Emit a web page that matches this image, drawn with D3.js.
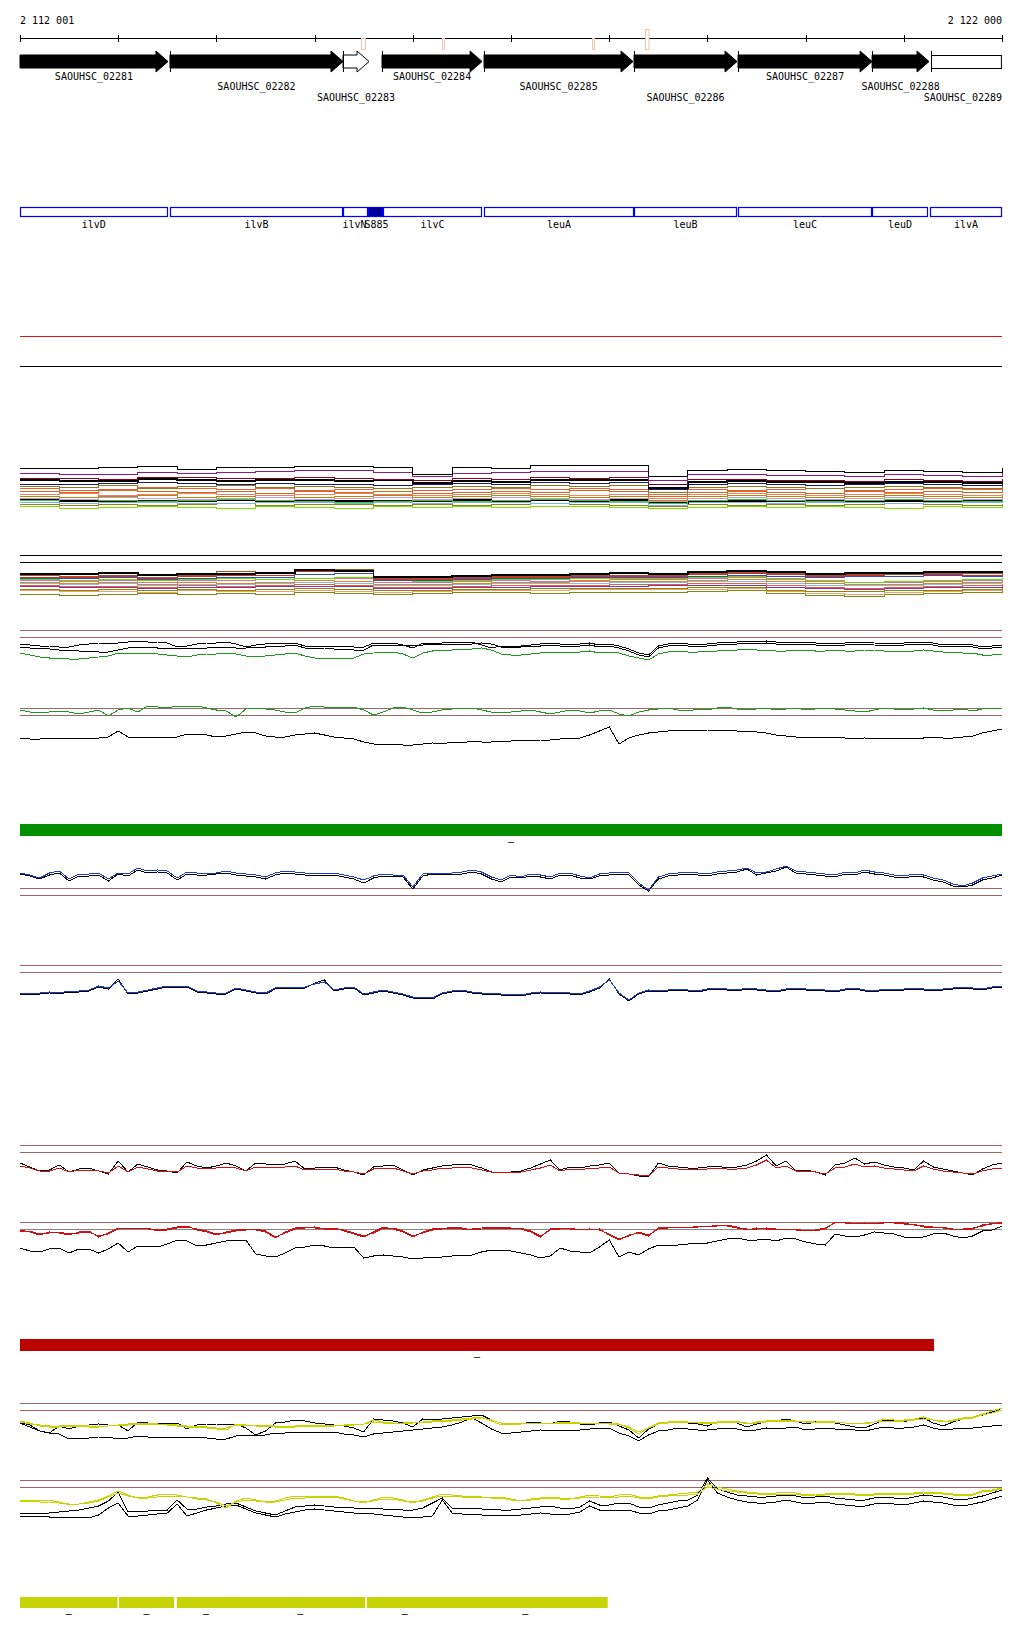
<!DOCTYPE html>
<html><head><meta charset="utf-8">
<script src="https://cdn.jsdelivr.net/npm/d3@7"></script>
<style>
body{margin:0;background:#fff}
svg{display:block}
text{font-family:"DejaVu Sans Mono",monospace;font-size:10px;fill:#000}
</style>
</head><body><svg id="c" width="1024" height="1640"></svg>
<script>
// ---------- data ----------
const START = 2112001, END = 2122000;
const axisTicks = [2112001,2113000,2114000,2115000,2116000,2117000,2118000,2119000,2120000,2121000,2122000];
const axisLabels = ["2 112 001","2 122 000"];

const geneNames = ["SAOUHSC_02281","SAOUHSC_02282","SAOUHSC_02283","SAOUHSC_02284","SAOUHSC_02285","SAOUHSC_02286","SAOUHSC_02287","SAOUHSC_02288","SAOUHSC_02289"];
const geneStarts = [2112001,2113528,2115290,2115687,2116726,2118253,2119312,2120677,2121278];
const geneEnds   = [2113508,2115290,2115555,2116706,2118243,2119302,2120677,2121257,2122000];
const geneKinds  = ["cds","cds","pseudo","cds","cds","cds","cds","cds","partial"];

const markerPos = [2115470,2116300,2117823,2118360];
const markerLen = [40,20,20,35];
const markerTop = [38,38,38,29];

const featNames  = ["ilvD","ilvB","ilvN","S885","ilvC","leuA","leuB","leuC","leuD","ilvA"];
const featStarts = [2112001,2113528,2115290,2115545,2115697,2116726,2118253,2119312,2120677,2121267];
const featEnds   = [2113503,2115290,2115545,2115697,2116706,2118253,2119302,2120677,2121247,2122000];
const featKinds  = ["gene","gene","gene","srna","gene","gene","gene","gene","gene","gene"];

// sampling positions: 100 bp (fine) and 400 bp (coarse)
const posFine = d3.range(101).map(i => START + i*100);
const posCoarse = d3.range(26).map(i => START + i*400);

// Track A (multi-series, coarse)
const A1 = [44,44,45,46,43,45,45,46,46,45,38,45,44,47,47,47,36,42,43,42,41,40,42,41,40,44];
const A2 = [39,38,38,40,39,40,41,42,42,40,36,39,40,41,41,41,32,38,38,37,37,36,38,37,36,39];
const A3 = [34,34,33,35,35,34,34,35,34,33,32,34,33,35,34,35,28,33,33,32,32,31,33,32,31,33];
const A4 = [32,31,31,33,32,31,32,32,31,32,29,31,30,32,32,32,24,30,31,30,30,29,30,30,29,31];
const A5 = [28,28,29,30,29,28,29,28,28,27,28,29,28,30,29,30,23,28,29,28,27,28,29,28,27,29];
const A6 = [26,25,27,24,26,27,25,26,25,24,25,26,25,27,26,27,20,25,26,25,24,25,26,25,24,26];
const A7 = [24,22,23,25,24,23,24,22,23,24,22,23,24,23,24,23,18,23,22,23,24,22,23,24,23,24];
const A8 = [21,20,22,21,20,21,19,21,20,21,19,20,21,20,22,21,16,20,21,20,19,21,20,21,20,22];
const A9 = [18,19,17,18,19,18,17,18,19,18,17,18,19,18,17,18,14,18,19,18,17,18,19,18,17,18];
const A10 = [16,15,16,17,15,16,17,15,16,17,15,16,17,16,15,16,12,16,17,16,15,16,17,16,15,17];
const A11 = [14,13,15,14,13,14,15,13,14,15,13,14,15,14,13,14,11,14,15,14,13,14,15,14,13,15];
const A12 = [12,13,12,11,12,13,12,11,10,11,12,11,12,13,12,11,9,12,13,12,11,12,13,12,11,13];
const A13 = [12,11,11,11,11,12,11,11,11,11,11,12,11,12,11,12,9,11,11,11,11,11,11,11,11,12];
const A14 = [10,9,10,10,9,9,10,10,9,10,9,10,10,9,10,10,7,10,10,9,10,10,9,10,10,9];
const A15 = [8,7,8,7,8,9,7,8,8,7,8,7,8,9,8,7,6,8,7,8,7,8,9,8,7,8];
const A16 = [6,4,5,6,5,4,6,5,4,6,5,6,5,6,6,5,4,5,6,5,6,5,4,6,5,6];

// Track B (multi-series, coarse)
const B1 = [24,24,25,23,24,24,25,28,27,21,21,22,23,23,24,25,24,26,27,26,24,25,25,26,26,27];
const B2 = [23,22,23,21,23,27,26,29,29,20,20,21,22,22,23,23,23,25,26,25,23,24,24,25,25,26];
const B3 = [21,21,22,20,22,23,23,27,28,19,19,20,21,21,22,22,22,24,25,24,22,23,24,24,23,25];
const B4 = [20,20,21,19,20,21,21,24,25,18,18,19,20,20,21,21,21,22,23,22,21,22,22,23,22,23];
const B5 = [19,18,19,18,19,20,19,20,21,18,17,18,19,19,20,20,20,21,22,20,18,16,17,18,19,20];
const B6 = [18,17,18,16,18,18,19,20,20,16,16,17,18,17,18,19,19,20,21,19,17,16,16,17,18,19];
const B7 = [16,15,16,14,16,15,16,18,17,14,14,15,16,16,17,17,17,18,19,17,15,14,14,15,16,17];
const B8 = [15,14,15,13,14,14,15,16,15,13,13,14,15,15,15,16,16,17,17,15,13,13,13,14,15,15];
const B9 = [13,12,12,11,13,12,13,14,13,11,11,12,13,13,13,14,14,15,15,13,11,10,11,12,13,14];
const B10 = [12,11,11,10,11,11,12,12,12,10,10,11,11,12,12,12,13,13,13,11,10,9,10,11,11,12];
const B11 = [9,8,9,8,9,8,9,10,9,8,8,9,9,10,10,10,10,11,11,8,7,7,8,8,9,10];
const B12 = [8,7,7,6,8,7,7,8,7,6,7,8,8,8,9,9,9,9,10,7,5,4,6,7,8,9];
const B13 = [4,3,4,5,4,5,4,6,5,4,5,6,6,5,6,6,6,7,8,5,3,2,4,5,6,7];

// Track C
const C_black1 = [18,17,16,16,15,15,17,18,19,19,19,20,21,20,20,19,15,16,18,19,19,20,18,15,17,18,19,19,19,16,15,16,16,16,15,15,19,19,19,17,14,19,19,19,20,20,20,17,14,16,15,
16,17,18,19,18,17,18,19,17,18,16,13,9,7,16,18,19,18,17,18,19,20,20,21,20,21,20,19,20,20,19,18,19,19,20,20,19,18,19,19,20,20,19,17,18,18,17,15,16,17];
const C_black2 = [15,14,14,13,12,12,11,11,10,10,12,14,15,15,14,14,14,14,14,14,15,15,14,14,15,15,16,16,17,14,14,14,13,13,12,12,17,17,17,17,17,17,18,18,18,18,18,19,18,15,15,
15,16,16,17,16,15,16,17,15,16,14,11,7,5,14,16,17,16,15,16,17,18,18,19,18,19,18,17,18,18,17,16,17,17,18,18,17,16,17,17,18,18,17,15,16,16,15,13,14,15];
const C_green = [9,7,5,4,4,3,3,4,5,6,9,9,9,9,8,7,6,5,7,8,8,9,8,6,5,6,7,8,9,6,4,4,4,4,4,8,9,10,10,8,4,9,11,12,12,13,13,14,12,8,7,
7,8,9,10,10,9,10,11,9,10,9,6,4,2,8,10,11,10,10,11,11,12,12,13,12,12,11,11,12,12,11,11,12,11,11,12,12,11,10,11,11,12,11,10,10,9,9,7,7,8];
// Track D
const D_green = [40,38,37,38,39,38,36,38,40,34,40,42,38,44,43,42,44,44,44,42,40,39,33,41,42,41,40,38,37,42,44,43,43,43,43,40,35,38,42,43,40,37,38,40,41,42,42,40,38,37,38,
39,40,38,36,38,40,39,37,39,40,36,34,38,40,41,42,40,39,41,40,42,43,41,40,41,42,40,41,42,40,41,42,41,40,39,38,40,42,41,40,41,42,40,39,40,41,39,41,42,41];
const D_black = [12,11,11,12,12,12,11,12,12,13,19,13,13,13,13,13,13,16,16,15,13,14,16,18,17,14,13,13,15,16,17,15,13,12,11,8,6,5,6,5,5,6,7,6,8,7,9,8,8,9,9,
10,9,10,10,11,12,12,15,19,23,6,12,15,17,18,19,20,19,20,20,19,20,19,19,18,17,15,14,13,13,13,12,13,12,11,12,11,12,12,11,12,12,13,12,12,13,14,17,19,21];
// Track E
const E_blue = [22,20,17,22,24,16,21,21,22,16,22,21,27,24,25,24,17,23,22,22,22,24,22,21,20,18,22,24,23,22,21,22,22,20,18,15,19,21,20,20,8,21,22,22,22,23,25,23,18,15,20,
18,21,20,18,22,22,19,17,21,22,23,22,12,5,18,21,22,23,22,21,23,24,25,27,22,23,26,29,24,23,22,21,20,23,22,25,23,22,20,19,21,20,17,15,11,9,12,17,19,21];
const E_black = [21,19,16,20,22,14,19,19,20,14,21,19,25,22,23,22,15,21,20,20,21,22,20,19,18,16,20,22,21,20,19,20,20,18,16,12,17,19,19,18,6,19,21,20,21,21,23,21,16,13,18,
17,19,18,16,20,20,17,16,19,20,21,20,10,4,16,19,20,21,20,19,21,22,23,26,20,22,24,28,22,21,20,19,18,21,20,23,21,20,18,17,19,18,15,13,9,8,10,15,17,20];
// Track F
const F_blue = [11,12,12,13,12,14,14,15,19,17,24,12,13,15,17,19,19,19,14,13,12,12,17,15,13,12,17,18,18,18,21,23,15,17,18,11,13,15,13,11,8,8,7,12,14,15,13,12,12,11,11,
10,12,13,12,13,12,11,14,18,25,12,5,12,15,14,15,16,15,14,16,17,16,15,17,16,15,14,16,17,16,16,15,14,16,17,15,14,16,15,16,17,16,15,16,17,18,17,16,18,19];
const F_black = [10,11,11,12,11,13,13,14,18,16,26,11,12,14,16,18,18,18,13,12,11,11,16,14,12,11,16,17,17,17,22,25,14,16,17,10,12,14,12,10,7,7,6,11,13,14,12,11,11,10,10,
9,11,12,11,12,11,10,13,17,26,11,4,11,14,13,14,15,14,13,15,16,15,14,16,15,14,13,15,16,15,15,14,13,15,16,14,13,15,14,15,16,15,14,15,16,17,16,15,17,18];
// Track G
const G_black = [22,18,14,15,20,13,16,17,14,11,24,13,21,18,15,14,12,23,19,17,19,22,19,14,22,21,20,21,24,16,17,18,18,15,13,10,18,19,20,15,10,15,17,19,20,21,20,17,13,12,13,
14,17,21,25,15,18,17,19,20,22,12,11,9,8,22,19,18,17,17,18,19,17,18,20,24,30,19,24,14,15,13,10,20,22,27,21,23,20,18,17,15,24,18,16,14,12,10,16,20,22];
const G_red = [19,17,14,14,17,13,15,15,14,12,19,13,18,16,14,14,13,19,17,16,17,18,17,14,18,18,17,18,19,15,16,16,16,14,13,11,16,17,17,14,11,14,15,17,17,18,17,15,13,12,13,
13,15,17,20,14,16,15,17,17,18,12,11,10,9,18,17,16,15,16,16,17,16,16,17,20,25,17,19,14,14,13,11,17,18,21,18,19,17,16,15,14,19,16,14,13,12,11,14,16,17];
// Track H
const H_red = [35,33,30,33,32,30,33,34,28,32,37,36,37,36,35,36,38,39,35,33,30,33,35,36,35,33,27,33,37,38,37,37,37,34,31,28,33,38,36,33,28,33,36,37,37,36,36,37,38,38,37,
36,33,28,36,37,36,36,35,36,30,25,30,32,29,37,38,37,38,38,39,39,40,38,35,37,36,35,36,35,35,34,36,43,42,42,41,42,42,43,42,40,39,38,37,36,35,36,40,41,43];
const H_red2 = [34,34,31,32,33,31,32,33,29,31,36,37,36,37,34,35,37,38,36,34,31,32,34,35,36,34,28,32,36,37,38,36,36,35,32,29,32,37,37,34,29,32,35,36,38,37,35,36,37,37,36,
37,34,29,35,36,37,35,36,35,31,26,29,33,30,36,37,38,37,39,38,40,39,37,36,36,37,36,35,36,34,35,37,42,43,41,42,41,43,42,41,41,38,37,38,35,36,37,39,42,42];
const H_black = [17,14,13,16,17,12,16,16,12,16,22,13,19,19,18,21,25,24,19,20,22,24,25,25,11,9,8,12,17,18,20,19,17,18,18,7,9,10,9,8,6,7,8,8,9,10,10,13,15,15,14,
12,10,7,9,17,14,13,12,18,25,8,13,10,16,20,19,20,21,22,22,24,26,27,25,25,26,24,27,26,23,21,20,31,29,28,30,33,32,31,28,27,28,31,32,29,27,29,34,35,39];
// Track I
const I_black1 = [23,20,14,12,19,16,19,20,21,20,20,14,23,22,21,22,22,16,20,21,21,20,21,17,10,14,22,23,25,24,22,21,20,19,17,13,26,25,24,22,18,26,25,26,27,28,29,30,25,22,21,
21,23,22,21,24,23,21,20,22,23,19,15,7,16,21,23,24,22,21,19,23,24,22,18,21,23,24,26,24,21,23,24,22,20,18,17,21,25,24,23,26,27,22,19,23,26,28,30,33,37];
const I_black2 = [22,18,14,12,11,6,7,7,8,8,6,7,9,8,8,8,8,7,8,7,6,6,9,10,9,10,12,12,13,12,13,13,13,11,10,8,11,12,13,14,15,16,17,18,20,23,27,22,16,12,12,
13,14,15,14,15,14,15,16,17,17,12,9,4,10,14,15,17,16,15,15,16,17,16,14,15,17,16,17,18,15,16,17,16,16,15,14,16,18,17,17,18,20,17,15,16,17,17,18,19,20];
const I_yellow1 = [24,22,19,18,18,19,19,18,18,19,20,21,22,22,21,20,19,18,18,17,16,15,21,20,19,19,18,18,18,19,19,19,19,20,20,21,25,23,22,22,23,23,24,25,25,26,27,28,24,20,21,
21,22,22,21,23,23,22,21,22,22,21,17,11,17,22,23,24,23,22,22,23,24,24,21,23,24,25,25,24,23,24,24,23,22,22,21,23,26,25,25,26,28,25,23,25,27,28,31,34,37];
const I_yellow2 = [23,21,20,19,19,20,20,19,19,19,20,20,21,21,21,21,20,19,19,18,17,17,20,20,20,20,19,19,19,20,20,20,20,20,21,21,23,22,22,22,22,23,23,24,24,25,26,27,25,22,22,
22,21,22,22,22,22,22,22,22,21,21,18,13,17,21,22,23,23,23,22,22,23,23,22,22,23,24,24,24,23,23,23,23,22,22,22,23,24,24,24,25,26,25,24,24,26,27,30,32,35];
// Track J
const J_yellow1 = [25,25,25,25,23,20,21,23,25,29,34,30,27,28,30,31,30,28,27,26,22,17,24,27,25,23,24,27,29,29,29,29,29,27,24,22,25,28,27,25,22,25,28,31,30,29,29,28,28,28,26,
24,26,27,28,27,26,28,30,29,28,30,31,28,27,29,30,31,32,33,41,38,36,34,33,32,31,32,33,32,30,31,31,32,32,31,30,31,32,32,31,32,33,33,32,31,30,31,34,35,37];
const J_yellow2 = [24,24,23,23,22,21,21,22,24,28,32,29,27,27,28,29,29,28,26,25,23,19,23,25,24,23,23,25,27,27,28,28,28,26,24,23,24,26,26,24,23,24,27,29,29,28,28,28,27,27,25,
24,25,26,27,26,26,27,28,28,27,28,29,27,26,28,29,30,30,31,38,36,34,33,32,31,30,31,31,31,29,30,30,31,31,30,29,30,31,31,30,31,32,32,31,30,30,30,33,34,36];
const J_black1 = [12,12,12,12,13,14,15,17,19,24,33,13,14,14,15,15,25,16,16,18,19,21,22,18,14,12,10,14,18,19,20,19,18,18,17,17,17,16,16,15,15,17,22,27,17,16,17,16,16,15,15,
16,17,18,19,17,16,18,24,20,20,22,22,18,17,20,22,24,25,30,47,36,33,30,29,28,28,29,30,29,27,28,29,27,26,25,25,27,28,27,26,28,30,29,28,26,25,27,29,32,35];
const J_black2 = [9,9,9,8,8,8,8,7,10,17,22,9,9,10,11,12,21,9,12,15,17,19,20,16,12,10,8,11,13,15,16,15,14,13,12,12,11,10,9,8,7,8,9,25,12,11,11,10,10,10,10,
10,11,12,11,10,11,13,19,15,14,15,15,12,11,14,15,17,19,25,45,32,28,25,23,22,22,23,25,23,21,22,23,21,20,19,19,21,22,21,20,22,24,23,22,20,19,21,23,26,29];

// region bars
const greenBars = [[2112001,2122000]];
const redBars = [[2112001,2121308]];
const yellowBars = [[2112001,2112996],[2113009,2113569],[2113598,2114190],[2114190,2115519],[2115532,2116308],[2116308,2117985]];

// ---------- drawing ----------
const svg = d3.select("#c");
const x = d3.scaleLinear().domain([START, END]).range([20, 1002]);
const BROWN = "#9c6666";

// axis
const axisY = 38;
svg.append("line").attr("x1", x(START)).attr("x2", x(END)).attr("y1", axisY+0.5).attr("y2", axisY+0.5).attr("stroke","#000").attr("shape-rendering","crispEdges");
svg.selectAll(".tick").data(axisTicks).join("line")
  .attr("x1", d => Math.round(x(d))+0.5).attr("x2", d => Math.round(x(d))+0.5)
  .attr("y1", axisY-3).attr("y2", axisY+4).attr("stroke","#000").attr("shape-rendering","crispEdges");
svg.append("text").attr("x", x(START)).attr("y", 24).text(axisLabels[0]);
svg.append("text").attr("x", x(END)).attr("y", 24).attr("text-anchor","end").text(axisLabels[1]);

// markers
svg.selectAll(".mk").data(markerPos).join("rect")
  .attr("x", d => Math.round(x(d))+0.5).attr("y", (d,i) => markerTop[i]+0.5)
  .attr("width", (d,i) => Math.max(1, x(d+markerLen[i]) - x(d)))
  .attr("height", (d,i) => 49 - markerTop[i])
  .attr("fill","#fff").attr("stroke","#f3c3b3");

// genes
const bodyT = 55, bodyB = 68, headT = 51, headB = 72, headL = 12;
geneStarts.forEach((s, i) => {
  const x0 = x(s), x1 = x(geneEnds[i]);
  const kind = geneKinds[i];
  const g = svg.append("g");
  if (kind === "partial") {
    g.append("rect").attr("x", Math.round(x0)+0.5).attr("y", bodyT+0.5).attr("width", x1-x0-1).attr("height", bodyB-bodyT)
      .attr("fill","#fff").attr("stroke","#000");
  } else {
    const hx = x1 - headL;
    const p = `M${x0},${bodyT} L${hx},${bodyT} L${hx},${headT} L${x1},${(headT+headB)/2} L${hx},${headB} L${hx},${bodyB} L${x0},${bodyB} Z`;
    g.append("path").attr("d", p)
      .attr("fill", kind === "pseudo" ? "#fff" : "#000").attr("stroke","#000").attr("stroke-width",1);
  }
  if (s > START) {
    g.append("line").attr("x1", Math.round(x0)+0.5).attr("x2", Math.round(x0)+0.5).attr("y1", headT).attr("y2", headB)
      .attr("stroke","#000").attr("shape-rendering","crispEdges");
  }
  const rowY = [80, 89.5, 101][i % 3];
  let cx = (x0 + x1)/2;
  const half = geneNames[i].length * 6.02 / 2;
  cx = Math.min(cx, x(END) - half);
  svg.append("text").attr("x", cx).attr("y", rowY).attr("text-anchor","middle").text(geneNames[i]);
});

// feature boxes
featStarts.forEach((s, i) => {
  const x0 = x(s), x1 = x(featEnds[i]);
  svg.append("rect").attr("x", Math.round(x0)+0.5).attr("y", 207.5).attr("width", Math.max(1, Math.round(x1-x0)-1)).attr("height", 9)
    .attr("fill", featKinds[i] === "srna" ? "#000096" : "none").attr("stroke", "#0000ff").attr("stroke-width", 1.2);
  svg.append("text").attr("x", (x0+x1)/2 + (featNames[i]==="ilvN" ? -1 : featNames[i]==="S885" ? 1 : 0)).attr("y", 228).attr("text-anchor","middle").text(featNames[i]);
});

// helpers
function trackScale(base) { return d3.scaleLinear().domain([0, 200]).range([base, base - 200]); }
function hline(y, color) {
  svg.append("line").attr("x1", x(START)).attr("x2", x(END)).attr("y1", Math.round(y)+0.5).attr("y2", Math.round(y)+0.5)
    .attr("stroke", color).attr("shape-rendering","crispEdges");
}
function series(vals, pos, y, color, curve, w) {
  const line = d3.line().x((d,i) => x(pos[i])).y(d => y(d)).curve(curve || d3.curveLinear);
  svg.append("path").attr("d", line(vals)).attr("fill","none").attr("stroke", color)
    .attr("stroke-width", w || 1).attr("shape-rendering","crispEdges").attr("stroke-linejoin","miter");
}

// Track A
const yA = trackScale(512);
hline(yA(176), "#e01010");
hline(yA(146), "#000");
const aSeries = [A16,A15,A14,A13,A12,A11,A10,A9,A8,A7,A6,A5,A4,A3,A2,A1];
const aColors = ["#7fdc00","#8a8a10","#7fb2e5","#000","#33cc33","#c39bd3","#b8860b","#f08060","#d2691e","#e8603c","#8a7a1a","#1a1a6e","#000","#8b0020","#8b1a89","#000"];
aSeries.forEach((s,i) => series(s, posCoarse, yA, aColors[i], d3.curveStepAfter, (i===3||i===12)?1.5:1));

// Track B
const yB = trackScale(598);
hline(yB(43), "#000");
hline(yB(36), "#000");
const bSeries = [B13,B12,B11,B10,B9,B8,B7,B6,B5,B4,B3,B2,B1];
const bColors = ["#7a8a10","#f0a070","#8a8a00","#9030a0","#e06040","#80c0e0","#e08030","#e07090","#66dd00","#3050c0","#d03020","#a0522d","#000"];
bSeries.forEach((s,i) => series(s, posCoarse, yB, bColors[i], d3.curveStepAfter, i===12?1.5:1));

// Track C
const yC = trackScale(662);
hline(yC(32), BROWN); hline(yC(25), BROWN);
series(C_green, posFine, yC, "#1a9a1a");
series(C_black2, posFine, yC, "#000");
series(C_black1, posFine, yC, "#000");

// Track D
const yD = trackScale(750);
hline(yD(42), BROWN); hline(yD(35), BROWN);
series(D_green, posFine, yD, "#1a9a1a");
series(D_black, posFine, yD, "#000");

// green bar
const barH = 12;
svg.selectAll(".gb").data(greenBars).join("rect")
  .attr("x", d => x(d[0])).attr("y", 824).attr("width", d => x(d[1]) - x(d[0])).attr("height", barH).attr("fill", "#009000");
svg.selectAll(".gbt").data(greenBars).join("text")
  .attr("x", d => (x(d[0])+x(d[1]))/2).attr("y", 845).attr("text-anchor","middle").text("–");

// Track E
const yE = trackScale(895);
hline(yE(7), BROWN); hline(yE(0), BROWN);
series(E_black, posFine, yE, "#000");
series(E_blue, posFine, yE, "#1a3ad0");

// Track F
const yF = trackScale(1005);
hline(yF(40), BROWN); hline(yF(33), BROWN);
series(F_black, posFine, yF, "#000");
series(F_blue, posFine, yF, "#1a3ad0");

// Track G
const yG = trackScale(1185);
hline(yG(40), BROWN); hline(yG(33), BROWN);
series(G_black, posFine, yG, "#000");
series(G_red, posFine, yG, "#d01010");

// Track H
const yH = trackScale(1265);
hline(yH(43), BROWN); hline(yH(36), "#8c8080");
series(H_red2, posFine, yH, "#d01010");
series(H_red, posFine, yH, "#d01010");
series(H_black, posFine, yH, "#000");

// red bar
svg.selectAll(".rb").data(redBars).join("rect")
  .attr("x", d => x(d[0])).attr("y", 1339).attr("width", d => x(d[1]) - x(d[0])).attr("height", barH).attr("fill", "#bb0000");
svg.selectAll(".rbt").data(redBars).join("text")
  .attr("x", d => (x(d[0])+x(d[1]))/2).attr("y", 1360).attr("text-anchor","middle").text("–");

// Track I
const yI = trackScale(1445);
hline(yI(42), BROWN); hline(yI(35), BROWN);
series(I_black2, posFine, yI, "#000");
series(I_black1, posFine, yI, "#000");
series(I_yellow2, posFine, yI, "#c8d400");
series(I_yellow1, posFine, yI, "#c8d400");

// Track J
const yJ = trackScale(1525);
hline(yJ(45), BROWN); hline(yJ(38), BROWN);
series(J_black2, posFine, yJ, "#000");
series(J_black1, posFine, yJ, "#000");
series(J_yellow2, posFine, yJ, "#c8d400");
series(J_yellow1, posFine, yJ, "#c8d400");

// yellow bars
svg.selectAll(".yb").data(yellowBars).join("rect")
  .attr("x", d => x(d[0])).attr("y", 1597).attr("width", d => x(d[1]) - x(d[0])).attr("height", 11).attr("fill", "#c6d406");
svg.selectAll(".ybt").data(yellowBars).join("text")
  .attr("x", d => (x(d[0])+x(d[1]))/2).attr("y", 1617).attr("text-anchor","middle").text("–");
svg.selectAll(".ybs").data([yellowBars[0][1], yellowBars[1][1], yellowBars[3][1]]).join("line")
  .attr("x1", d => x(d)+0.5).attr("x2", d => x(d)+0.5).attr("y1",1597).attr("y2",1608).attr("stroke","#fff");
</script>
</body></html>
